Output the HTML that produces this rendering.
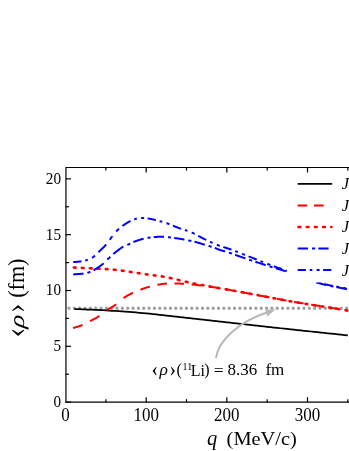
<!DOCTYPE html>
<html><head><meta charset="utf-8"><style>
html,body{margin:0;padding:0;background:#fff;}
svg{display:block;}
text{font-family:"Liberation Serif",serif;fill:#000;}
</style></head><body>
<svg width="349" height="451" viewBox="0 0 349 451" style="will-change:transform">
<rect width="349" height="451" fill="#fff"/>
<defs><clipPath id="cp"><rect x="65.5" y="167" width="284" height="236"/></clipPath></defs>
<g clip-path="url(#cp)" fill="none" stroke-width="2">
<line x1="69" y1="308.25" x2="349" y2="308.25" stroke="#a0a0a0" stroke-width="3.3" stroke-dasharray="0 5.34" stroke-linecap="round"/>
<path d="M74.42,309.03 L77.01,309.14 L79.56,309.24 L82.08,309.33 L84.58,309.42 L87.08,309.51 L89.59,309.60 L92.14,309.70 L94.73,309.80 L97.39,309.92 L100.12,310.05 L102.94,310.20 L105.88,310.37 L108.92,310.56 L112.08,310.76 L115.33,310.98 L118.66,311.20 L122.05,311.44 L125.48,311.69 L128.95,311.94 L132.43,312.21 L135.91,312.49 L139.38,312.78 L142.81,313.08 L146.20,313.39 L149.56,313.71 L152.92,314.05 L156.28,314.40 L159.64,314.77 L163.00,315.15 L166.36,315.53 L169.72,315.92 L173.08,316.31 L176.44,316.70 L179.80,317.09 L183.16,317.48 L186.52,317.85 L189.89,318.23 L193.25,318.60 L196.61,318.97 L199.97,319.34 L203.33,319.72 L206.69,320.09 L210.05,320.46 L213.41,320.83 L216.77,321.20 L220.13,321.58 L223.49,321.95 L226.85,322.32 L230.21,322.69 L233.57,323.07 L236.93,323.44 L240.29,323.81 L243.65,324.19 L247.01,324.56 L250.37,324.93 L253.73,325.31 L257.09,325.68 L260.45,326.05 L263.81,326.42 L267.18,326.79 L270.54,327.15 L273.90,327.52 L277.26,327.89 L280.62,328.25 L283.98,328.61 L287.34,328.98 L290.70,329.34 L294.06,329.70 L297.42,330.06 L300.78,330.42 L304.14,330.78 L307.50,331.14 L310.86,331.50 L314.22,331.85 L317.58,332.21 L320.94,332.56 L324.30,332.92 L327.66,333.27 L331.02,333.62 L334.38,333.97 L337.74,334.33 L341.10,334.68 L344.46,335.03 L347.82,335.38" stroke="#000" stroke-width="1.75"/>
<path d="M73.05,328.13 L73.28,328.05 L73.50,327.98 L73.73,327.90 L73.96,327.83 L74.19,327.76 L74.42,327.68 L74.64,327.61 L74.87,327.54 L75.10,327.47 L75.33,327.40 L75.56,327.32 L75.79,327.25 L76.02,327.18 L76.25,327.11 L76.48,327.04 L76.71,326.97 L76.94,326.90 L77.17,326.83 L77.40,326.75 L77.63,326.68 L77.86,326.61 L78.09,326.54 L78.32,326.46 L78.55,326.39 L78.77,326.32 L79.00,326.24 L79.23,326.17 L79.45,326.09 L79.68,326.01 L79.90,325.94 L80.12,325.86 L80.34,325.78 L80.56,325.70 L80.79,325.62 L81.00,325.54 L81.22,325.45 L81.44,325.37 L81.66,325.28 L81.87,325.20 L82.08,325.11 L82.30,325.02 L82.50,324.94 M90.01,321.12 L90.07,321.09 L90.27,320.99 L90.47,320.88 L90.67,320.78 L90.87,320.68 L91.07,320.58 L91.26,320.48 L91.46,320.38 L91.66,320.28 L91.86,320.18 L92.06,320.08 L92.26,319.98 L92.45,319.88 L92.65,319.79 L92.85,319.69 L93.05,319.59 L93.25,319.49 L93.44,319.39 L93.64,319.29 L93.84,319.18 L94.04,319.08 L94.24,318.98 L94.44,318.88 L94.64,318.77 L94.84,318.66 L95.04,318.56 L95.24,318.45 L95.44,318.34 L95.65,318.23 L95.85,318.11 L96.05,318.00 L96.26,317.88 L96.46,317.76 L96.67,317.64 L96.87,317.52 L97.08,317.40 L97.29,317.27 L97.50,317.14 L97.71,317.01 L97.92,316.87 L98.13,316.74 L98.35,316.60 L98.56,316.45 L98.78,316.31 L99.00,316.16 L99.22,316.00 L99.38,315.88 M106.79,310.24 L106.87,310.19 L107.08,310.04 L107.30,309.89 L107.51,309.75 L107.72,309.61 L107.93,309.48 L108.14,309.34 L108.34,309.21 L108.55,309.08 L108.76,308.95 L108.96,308.83 L109.17,308.70 L109.37,308.58 L109.57,308.46 L109.77,308.34 L109.98,308.22 L110.18,308.11 L110.38,307.99 L110.58,307.87 L110.78,307.76 L110.98,307.64 L111.18,307.53 L111.38,307.41 L111.58,307.30 L111.77,307.18 L111.97,307.06 L112.17,306.95 L112.37,306.83 L112.57,306.71 L112.76,306.59 L112.96,306.47 L113.16,306.35 L113.36,306.23 L113.56,306.10 L113.75,305.97 L113.95,305.84 L114.15,305.71 L114.35,305.58 L114.55,305.44 L114.75,305.30 L114.95,305.16 L115.15,305.01 L115.35,304.87 L115.55,304.71 L115.75,304.56 L115.95,304.40 L116.12,304.27 M123.49,298.07 L123.53,298.03 L123.74,297.90 L123.94,297.76 L124.14,297.63 L124.33,297.49 L124.53,297.36 L124.73,297.23 L124.93,297.10 L125.13,296.98 L125.33,296.85 L125.53,296.73 L125.73,296.61 L125.93,296.49 L126.13,296.37 L126.33,296.25 L126.53,296.13 L126.73,296.01 L126.93,295.90 L127.13,295.78 L127.33,295.67 L127.53,295.56 L127.73,295.44 L127.93,295.33 L128.14,295.22 L128.34,295.11 L128.54,295.00 L128.74,294.90 L128.94,294.79 L129.15,294.68 L129.35,294.57 L129.55,294.47 L129.76,294.36 L129.96,294.26 L130.17,294.15 L130.37,294.05 L130.58,293.94 L130.78,293.84 L130.99,293.73 L131.20,293.63 L131.41,293.52 L131.61,293.42 L131.82,293.32 L132.02,293.22 L132.23,293.12 L132.43,293.02 L132.63,292.92 L132.83,292.82 L132.85,292.82 M140.40,289.70 L140.50,289.66 L140.75,289.57 L141.00,289.47 L141.26,289.38 L141.52,289.28 L141.78,289.19 L142.04,289.09 L142.30,289.00 L142.56,288.90 L142.82,288.80 L143.09,288.71 L143.36,288.61 L143.63,288.52 L143.90,288.42 L144.17,288.32 L144.45,288.23 L144.73,288.13 L145.01,288.04 L145.29,287.94 L145.57,287.85 L145.85,287.75 L146.14,287.66 L146.43,287.57 L146.72,287.47 L147.01,287.38 L147.31,287.29 L147.61,287.20 L147.91,287.11 L148.21,287.02 L148.51,286.93 L148.82,286.84 L149.13,286.76 L149.44,286.67 L149.76,286.59 L149.85,286.56 M157.43,284.86 L157.55,284.83 L157.93,284.76 L158.32,284.69 L158.70,284.62 L159.09,284.55 L159.48,284.48 L159.86,284.41 L160.25,284.34 L160.63,284.28 L161.02,284.21 L161.40,284.15 L161.78,284.09 L162.16,284.04 L162.53,283.98 L162.91,283.93 L163.28,283.87 L163.65,283.82 L164.02,283.78 L164.38,283.73 L164.74,283.69 L165.10,283.65 L165.45,283.61 L165.80,283.58 L166.14,283.55 L166.49,283.52 L166.83,283.49 L166.92,283.48 M174.52,283.42 L174.57,283.42 L174.89,283.44 L175.20,283.45 L175.52,283.46 L175.83,283.47 L176.15,283.48 L176.47,283.50 L176.78,283.51 L177.10,283.52 L177.42,283.53 L177.74,283.55 L178.06,283.56 L178.38,283.57 L178.70,283.58 L179.02,283.59 L179.33,283.60 L179.64,283.60 L179.93,283.61 L180.23,283.62 L180.51,283.63 L180.80,283.63 L181.08,283.64 L181.35,283.65 L181.63,283.66 L181.90,283.66 L182.17,283.67 L182.44,283.68 L182.70,283.69 L182.97,283.70 L183.24,283.71 L183.52,283.72 L183.79,283.73 L184.02,283.74 M191.62,284.36 L192.10,284.41 L192.62,284.47 L193.16,284.54 L193.72,284.60 L194.30,284.67 L194.90,284.74 L195.52,284.82 L196.15,284.90 L196.80,284.98 L197.46,285.06 L198.13,285.15 L198.82,285.24 L199.51,285.33 L200.21,285.42 L200.92,285.51 L201.11,285.54 M208.71,286.57 L208.85,286.59 L209.55,286.69 L210.24,286.79 L210.92,286.88 L211.59,286.98 L212.25,287.07 L212.89,287.16 L213.52,287.25 L214.14,287.34 L214.73,287.43 L215.31,287.51 L215.87,287.59 L216.41,287.67 L216.92,287.75 L217.41,287.82 L217.88,287.89 L218.20,287.94 M225.79,289.26 L225.88,289.28 L226.17,289.34 L226.47,289.39 L226.79,289.45 L227.12,289.52 L227.47,289.58 L227.84,289.65 L228.23,289.73 L228.63,289.80 L229.06,289.88 L229.52,289.97 L230.00,290.05 L230.49,290.14 L231.00,290.24 L231.52,290.33 L232.05,290.43 L232.59,290.53 L233.14,290.63 L233.70,290.73 L234.26,290.83 L234.84,290.94 L235.27,291.02 M242.86,292.41 L243.18,292.47 L243.88,292.60 L244.59,292.73 L245.30,292.86 L246.02,292.99 L246.74,293.13 L247.47,293.26 L248.21,293.40 L248.95,293.53 L249.70,293.67 L250.46,293.81 L251.22,293.95 L251.99,294.09 L252.35,294.16 M259.93,295.57 L259.98,295.58 L260.83,295.74 L261.69,295.91 L262.56,296.07 L263.44,296.24 L264.33,296.41 L265.23,296.58 L266.14,296.75 L267.06,296.93 L267.98,297.10 L268.91,297.28 L269.42,297.38 M277.01,298.82 L277.48,298.91 L278.45,299.10 L279.42,299.28 L280.39,299.46 L281.36,299.64 L282.33,299.82 L283.30,300.00 L284.27,300.18 L285.24,300.36 L286.20,300.54 L286.49,300.59 M294.08,301.94 L294.72,302.05 L295.67,302.21 L296.62,302.37 L297.59,302.53 L298.56,302.70 L299.55,302.86 L300.54,303.02 L301.53,303.19 L302.53,303.35 L303.54,303.51 L303.57,303.52 M311.16,304.72 L311.61,304.79 L312.61,304.95 L313.60,305.11 L314.59,305.26 L315.57,305.41 L316.54,305.56 L317.50,305.71 L318.45,305.86 L319.39,306.01 L320.32,306.15 L320.65,306.20 M328.24,307.38 L328.75,307.46 L329.49,307.58 L330.20,307.70 L330.89,307.81 L331.55,307.91 L332.19,308.02 L332.81,308.12 L333.40,308.21 L333.97,308.30 L334.52,308.39 L335.05,308.48 L335.57,308.56 L336.06,308.65 L336.54,308.72 L337.00,308.80 L337.45,308.87 L337.73,308.92 M345.32,310.18 L345.48,310.21 L345.85,310.27 L346.22,310.33 L346.61,310.40 L347.00,310.46 L347.41,310.53 L347.82,310.60" stroke="#f00"/>
<path d="M73.81,267.53 L73.85,267.53 L74.49,267.56 L75.14,267.59 L75.61,267.62 M81.81,267.91 L82.47,267.94 L83.15,267.97 L83.61,267.99 M89.81,268.29 L90.41,268.31 L91.05,268.35 L91.61,268.37 M97.81,268.69 L98.09,268.70 L98.62,268.73 L99.13,268.76 L99.61,268.78 M105.81,269.09 L106.17,269.11 L106.55,269.13 L106.93,269.15 L107.31,269.17 L107.61,269.19 M113.81,269.64 L113.97,269.66 L114.36,269.69 L114.75,269.73 L115.14,269.77 L115.53,269.81 L115.61,269.82 M121.80,270.61 L122.13,270.66 L122.51,270.72 L122.89,270.77 L123.27,270.83 L123.60,270.88 M129.79,271.81 L130.07,271.85 L130.44,271.91 L130.81,271.96 L131.17,272.02 L131.52,272.07 L131.59,272.08 M137.78,273.05 L137.99,273.08 L138.34,273.13 L138.69,273.19 L139.04,273.24 L139.40,273.30 L139.58,273.33 M145.78,274.26 L145.95,274.28 L146.42,274.34 L146.89,274.41 L147.36,274.47 L147.57,274.50 M153.77,275.27 L153.95,275.30 L154.49,275.36 L155.03,275.43 L155.57,275.50 L155.57,275.50 M161.76,276.40 L162.30,276.49 L162.88,276.58 L163.46,276.68 L163.56,276.70 M169.75,277.92 L170.04,277.98 L170.67,278.12 L171.29,278.26 L171.55,278.32 M177.73,279.78 L177.76,279.79 L178.41,279.95 L179.07,280.11 L179.53,280.22 M185.71,281.71 L186.37,281.86 L187.03,282.01 L187.51,282.12 M193.69,283.45 L194.25,283.56 L194.92,283.69 L195.49,283.80 M201.68,284.98 L201.87,285.01 L202.56,285.14 L203.26,285.27 L203.48,285.31 M209.67,286.43 L210.01,286.49 L210.64,286.60 L211.27,286.72 L211.46,286.75 M217.66,287.86 L217.88,287.91 L218.32,287.99 L218.75,288.06 L219.14,288.14 L219.45,288.19 M225.64,289.28 L225.88,289.32 L226.17,289.37 L226.47,289.42 L226.79,289.48 L227.12,289.54 L227.44,289.59 M233.63,290.72 L233.70,290.73 L234.26,290.83 L234.84,290.94 L235.43,291.05 M241.62,292.18 L241.81,292.22 L242.49,292.34 L243.18,292.47 L243.42,292.51 M249.61,293.65 L249.70,293.67 L250.46,293.81 L251.22,293.95 L251.41,293.99 M257.60,295.13 L258.31,295.27 L259.14,295.42 L259.39,295.47 M265.58,296.65 L266.14,296.75 L267.06,296.93 L267.38,296.99 M273.57,298.17 L273.63,298.18 L274.59,298.36 L275.37,298.51 M281.56,299.68 L282.33,299.82 L283.30,300.00 L283.35,300.01 M289.55,301.14 L290.03,301.23 L290.98,301.40 L291.34,301.46 M297.53,302.53 L297.59,302.53 L298.56,302.70 L299.33,302.82 M305.53,303.83 L305.55,303.84 L306.57,304.00 L307.32,304.12 M313.52,305.09 L313.60,305.11 L314.59,305.26 L315.31,305.37 M321.51,306.33 L322.14,306.43 L323.03,306.57 L323.31,306.61 M329.50,307.58 L330.20,307.70 L330.89,307.81 L331.30,307.87 M337.49,308.88 L337.89,308.94 L338.31,309.01 L338.72,309.08 L339.11,309.15 L339.29,309.18 M345.48,310.21 L345.85,310.27 L346.22,310.33 L346.61,310.40 L347.00,310.46 L347.28,310.51" stroke="#f00" stroke-width="2.6" stroke-linecap="round"/>
<path d="M73.21,274.42 L73.46,274.40 L73.71,274.38 L73.96,274.36 L74.22,274.35 L74.47,274.33 L74.73,274.31 L74.99,274.29 L75.26,274.27 L75.52,274.25 L75.78,274.23 L76.05,274.21 L76.32,274.19 L76.58,274.18 L76.85,274.16 L77.11,274.14 L77.38,274.12 L77.64,274.10 L77.91,274.08 L78.17,274.06 L78.43,274.05 L78.69,274.03 L78.95,274.01 L79.21,273.99 L79.46,273.97 L79.72,273.95 L79.97,273.93 L80.21,273.91 L80.45,273.89 L80.69,273.87 L80.93,273.85 L81.16,273.83 L81.39,273.81 L81.62,273.79 L81.84,273.77 L82.05,273.75 L82.26,273.73 L82.47,273.71 L82.67,273.68 L82.86,273.66 L83.05,273.64 L83.23,273.62 L83.41,273.60 L83.51,273.59 M87.40,272.84 L87.42,272.83 L87.54,272.80 L87.67,272.76 L87.79,272.72 L87.92,272.68 L88.05,272.64 L88.18,272.59 L88.32,272.55 L88.45,272.51 L88.58,272.46 L88.71,272.42 L88.84,272.38 L88.97,272.34 L89.10,272.29 L89.23,272.25 L89.36,272.21 L89.49,272.16 L89.62,272.11 L89.75,272.07 L89.88,272.02 L90.01,271.97 L90.15,271.92 L90.28,271.87 L90.39,271.83 M93.55,270.31 L93.60,270.28 L93.78,270.18 L93.96,270.07 L94.15,269.96 L94.34,269.85 L94.54,269.73 L94.74,269.60 L94.95,269.48 L95.16,269.35 L95.38,269.21 L95.59,269.08 L95.81,268.94 L96.04,268.79 L96.26,268.65 L96.49,268.50 L96.72,268.35 L96.95,268.20 L97.19,268.05 L97.42,267.89 L97.66,267.73 L97.89,267.58 L98.13,267.42 L98.36,267.26 L98.60,267.10 L98.83,266.93 L99.07,266.77 L99.30,266.61 L99.53,266.45 L99.77,266.28 L99.99,266.12 L100.22,265.96 L100.44,265.80 L100.67,265.64 L100.88,265.48 L101.10,265.32 L101.31,265.16 L101.52,265.01 L101.72,264.86 L101.92,264.70 L102.11,264.55 L102.30,264.41 L102.49,264.26 L102.67,264.12 L102.84,263.98 L103.02,263.83 L103.18,263.69 L103.35,263.55 L103.51,263.41 L103.63,263.30 M107.37,259.58 L107.43,259.51 L107.57,259.38 L107.71,259.24 L107.86,259.10 L108.00,258.96 L108.15,258.82 L108.29,258.68 L108.44,258.54 L108.59,258.40 L108.74,258.26 L108.88,258.13 L109.03,257.99 L109.17,257.85 L109.32,257.71 L109.46,257.58 L109.60,257.44 L109.75,257.30 L109.89,257.17 L110.03,257.03 L110.17,256.89 L110.25,256.82 M113.34,254.00 L113.37,253.98 L113.54,253.83 L113.71,253.69 L113.88,253.54 L114.06,253.39 L114.24,253.25 L114.42,253.10 L114.61,252.95 L114.80,252.79 L115.00,252.64 L115.20,252.48 L115.40,252.31 L115.61,252.15 L115.82,251.98 L116.03,251.81 L116.25,251.64 L116.47,251.47 L116.69,251.30 L116.91,251.13 L117.14,250.95 L117.36,250.78 L117.59,250.60 L117.82,250.43 L118.05,250.25 L118.28,250.08 L118.51,249.90 L118.74,249.73 L118.98,249.55 L119.21,249.38 L119.44,249.21 L119.67,249.04 L119.90,248.88 L120.12,248.71 L120.35,248.55 L120.58,248.39 L120.80,248.23 L121.02,248.08 L121.24,247.92 L121.45,247.78 L121.67,247.63 L121.87,247.49 L122.08,247.35 L122.28,247.22 L122.48,247.09 L122.68,246.97 L122.87,246.85 L123.05,246.73 L123.24,246.62 L123.39,246.53 M127.26,244.87 L127.37,244.83 L127.52,244.78 L127.66,244.73 L127.80,244.68 L127.94,244.63 L128.08,244.58 L128.22,244.53 L128.37,244.47 L128.51,244.41 L128.66,244.36 L128.80,244.29 L128.95,244.23 L129.10,244.17 L129.25,244.10 L129.40,244.03 L129.55,243.96 L129.69,243.89 L129.84,243.82 L129.98,243.76 L130.13,243.69 L130.24,243.63 M133.40,242.08 L133.46,242.05 L133.61,241.98 L133.76,241.91 L133.92,241.85 L134.08,241.78 L134.24,241.71 L134.40,241.64 L134.57,241.57 L134.73,241.51 L134.90,241.44 L135.07,241.37 L135.24,241.31 L135.42,241.24 L135.60,241.18 L135.78,241.11 L135.96,241.04 L136.15,240.98 L136.34,240.91 L136.53,240.84 L136.73,240.77 L136.92,240.71 L137.12,240.64 L137.32,240.57 L137.52,240.51 L137.72,240.44 L137.92,240.37 L138.12,240.31 L138.32,240.24 L138.53,240.18 L138.73,240.11 L138.94,240.05 L139.14,239.98 L139.35,239.92 L139.55,239.86 L139.75,239.80 L139.96,239.73 L140.16,239.67 L140.36,239.61 L140.56,239.55 L140.76,239.50 L140.95,239.44 L141.15,239.38 L141.34,239.32 L141.54,239.27 L141.73,239.22 L141.91,239.16 L142.10,239.11 L142.28,239.06 L142.46,239.01 L142.64,238.96 L142.81,238.92 L142.98,238.87 L143.15,238.83 L143.32,238.78 L143.49,238.74 L143.65,238.70 M147.54,237.90 L147.68,237.88 L147.83,237.86 L147.97,237.83 L148.12,237.81 L148.27,237.78 L148.41,237.76 L148.56,237.74 L148.71,237.71 L148.86,237.69 L149.01,237.67 L149.16,237.64 L149.30,237.62 L149.45,237.60 L149.59,237.58 L149.73,237.55 L149.87,237.53 L150.00,237.51 L150.14,237.49 L150.28,237.47 L150.41,237.45 L150.54,237.43 M153.74,237.09 L153.74,237.09 L153.91,237.08 L154.09,237.07 L154.27,237.05 L154.45,237.04 L154.64,237.03 L154.83,237.02 L155.03,237.01 L155.22,237.00 L155.43,236.98 L155.63,236.97 L155.85,236.96 L156.06,236.95 L156.28,236.94 L156.50,236.92 L156.72,236.91 L156.95,236.90 L157.17,236.89 L157.41,236.87 L157.64,236.86 L157.88,236.85 L158.11,236.84 L158.35,236.83 L158.60,236.82 L158.84,236.81 L159.08,236.80 L159.33,236.79 L159.58,236.78 L159.83,236.77 L160.08,236.77 L160.33,236.76 L160.58,236.75 L160.83,236.75 L161.09,236.75 L161.34,236.74 L161.59,236.74 L161.84,236.74 L162.10,236.74 L162.35,236.74 L162.60,236.74 L162.85,236.75 L163.11,236.75 L163.36,236.76 L163.61,236.77 L163.85,236.77 L164.04,236.78 M167.94,237.12 L168.14,237.15 L168.40,237.18 L168.66,237.21 L168.92,237.24 L169.17,237.28 L169.43,237.31 L169.69,237.35 L169.95,237.38 L170.20,237.42 L170.46,237.46 L170.72,237.49 L170.93,237.52 M174.13,237.98 L174.19,237.99 L174.43,238.02 L174.66,238.06 L174.89,238.09 L175.12,238.12 L175.34,238.15 L175.57,238.18 L175.79,238.21 L176.00,238.24 L176.22,238.27 L176.43,238.29 L176.64,238.32 L176.85,238.35 L177.06,238.38 L177.27,238.41 L177.47,238.44 L177.68,238.46 L177.88,238.49 L178.09,238.52 L178.29,238.55 L178.50,238.58 L178.70,238.61 L178.91,238.64 L179.11,238.67 L179.32,238.70 L179.53,238.73 L179.74,238.77 L179.95,238.80 L180.17,238.83 L180.38,238.87 L180.60,238.90 L180.82,238.94 L181.05,238.98 L181.27,239.02 L181.50,239.06 L181.74,239.10 L181.97,239.14 L182.21,239.18 L182.46,239.22 L182.71,239.27 L182.96,239.32 L183.22,239.36 L183.48,239.41 L183.75,239.46 L184.02,239.52 L184.30,239.57 L184.42,239.59 M188.31,240.38 L188.59,240.44 L188.92,240.50 L189.24,240.57 L189.56,240.64 L189.88,240.71 L190.20,240.78 L190.52,240.85 L190.84,240.92 L191.15,240.98 L191.30,241.02 M194.50,241.75 L194.71,241.80 L194.97,241.87 L195.24,241.93 L195.49,242.00 L195.75,242.06 L196.00,242.13 L196.25,242.19 L196.49,242.26 L196.74,242.32 L196.98,242.39 L197.22,242.46 L197.46,242.53 L197.69,242.59 L197.93,242.66 L198.16,242.73 L198.39,242.79 L198.61,242.86 L198.84,242.93 L199.06,243.00 L199.28,243.06 L199.50,243.13 L199.71,243.20 L199.93,243.27 L200.14,243.33 L200.35,243.40 L200.56,243.46 L200.77,243.53 L200.97,243.59 L201.18,243.66 L201.38,243.72 L201.58,243.79 L201.78,243.85 L201.97,243.91 L202.17,243.98 L202.36,244.04 L202.56,244.10 L202.75,244.16 L202.94,244.22 L203.12,244.28 L203.31,244.33 L203.50,244.39 L203.68,244.45 L203.86,244.50 L204.05,244.55 L204.22,244.61 L204.40,244.66 L204.57,244.71 L204.74,244.76 L204.76,244.77 M208.64,245.92 L208.73,245.95 L208.87,245.99 L209.01,246.03 L209.14,246.07 L209.28,246.12 L209.42,246.16 L209.56,246.20 L209.69,246.24 L209.83,246.29 L209.97,246.33 L210.11,246.37 L210.25,246.41 L210.38,246.46 L210.52,246.50 L210.65,246.54 L210.79,246.58 L210.92,246.62 L211.05,246.66 L211.18,246.71 L211.32,246.75 L211.45,246.79 L211.58,246.83 L211.63,246.84 M214.81,247.90 L214.87,247.92 L214.99,247.96 L215.12,248.01 L215.24,248.05 L215.36,248.10 L215.48,248.14 L215.59,248.19 L215.71,248.24 L215.82,248.28 L215.92,248.33 L216.03,248.37 L216.14,248.42 L216.24,248.46 L216.35,248.51 L216.45,248.55 L216.56,248.60 L216.66,248.65 L216.77,248.69 L216.87,248.74 L216.98,248.79 L217.08,248.83 L217.19,248.88 L217.30,248.93 L217.41,248.98 L217.53,249.03 L217.64,249.08 L217.76,249.13 L217.88,249.18 L218.01,249.23 L218.13,249.28 L218.26,249.34 L218.40,249.39 L218.53,249.44 L218.68,249.50 L218.82,249.56 L218.98,249.61 L219.13,249.67 L219.29,249.73 L219.46,249.79 L219.63,249.85 L219.81,249.91 L219.99,249.97 L220.18,250.03 L220.38,250.10 L220.57,250.16 L220.77,250.22 L220.97,250.28 L221.17,250.34 L221.37,250.41 L221.58,250.47 L221.79,250.53 L222.01,250.59 L222.22,250.66 L222.44,250.72 L222.67,250.78 L222.89,250.85 L223.12,250.92 L223.36,250.98 L223.59,251.05 L223.83,251.12 L224.07,251.19 L224.32,251.26 L224.57,251.33 L224.82,251.40 L225.06,251.47 M228.94,252.64 L229.05,252.67 L229.36,252.78 L229.67,252.88 L230.00,252.99 L230.32,253.09 L230.64,253.20 L230.97,253.31 L231.30,253.43 L231.63,253.54 L231.92,253.65 M235.11,254.78 L235.42,254.89 L235.79,255.03 L236.16,255.16 L236.53,255.30 L236.91,255.43 L237.30,255.57 L237.69,255.72 L238.08,255.86 L238.48,256.00 L238.89,256.15 L239.30,256.30 L239.72,256.45 L240.14,256.60 L240.57,256.75 L241.01,256.91 L241.46,257.07 L241.91,257.22 L242.37,257.39 L242.83,257.55 L243.31,257.71 L243.79,257.88 L244.28,258.05 L244.78,258.22 L245.29,258.39 L245.35,258.41 M249.23,259.72 L249.24,259.72 L249.87,259.93 L250.51,260.15 L251.16,260.36 L251.83,260.58 L252.21,260.71 M255.40,261.77 L255.97,261.96 L256.68,262.19 L257.39,262.43 L258.10,262.66 L258.81,262.89 L259.53,263.13 L260.24,263.36 L260.94,263.59 L261.65,263.83 L262.35,264.05 L263.04,264.28 L263.73,264.51 L264.41,264.73 L265.08,264.95 L265.65,265.13 M269.53,266.39 L270.02,266.55 L270.57,266.72 L271.10,266.89 L271.61,267.05 L272.10,267.21 L272.52,267.34 M275.70,268.29 L275.84,268.32 L276.13,268.41 L276.42,268.48 L276.69,268.56 L276.96,268.63 L277.23,268.70 L277.49,268.77 L277.75,268.84 L278.01,268.91 L278.26,268.98 L278.53,269.05 L278.79,269.12 L279.06,269.20 L279.33,269.27 L279.62,269.35 L279.91,269.44 L280.21,269.52 L280.52,269.62 L280.85,269.71 L281.19,269.82 L281.55,269.93 L281.93,270.04 L282.32,270.17 L282.74,270.30 L283.17,270.44 L283.63,270.59 L284.11,270.75 L284.62,270.92 L285.16,271.10 L285.72,271.30 L285.96,271.38 M289.84,272.78 L290.32,272.95 L291.05,273.23 L291.80,273.51 L292.57,273.80 L292.82,273.90 M296.00,275.11 L296.60,275.34 L297.44,275.66 L298.29,275.98 L299.14,276.31 L300.00,276.63 L300.87,276.96 L301.74,277.29 L302.62,277.62 L303.50,277.95 L304.38,278.28 L305.27,278.61 L306.15,278.93 L306.24,278.96 M310.11,280.35 L310.53,280.50 L311.40,280.80 L312.25,281.09 L313.10,281.37 M316.28,282.40 L316.40,282.43 L317.20,282.68 L317.98,282.91 L318.76,283.13 L319.53,283.35 L320.30,283.56 L321.07,283.76 L321.83,283.96 L322.59,284.16 L323.35,284.35 L324.11,284.53 L324.86,284.71 L325.61,284.89 L326.37,285.06 L326.55,285.10 M330.44,285.94 L330.84,286.02 L331.58,286.17 L332.32,286.32 L333.06,286.47 L333.44,286.54 M336.63,287.16 L336.74,287.18 L337.48,287.32 L338.21,287.46 L338.95,287.60 L339.69,287.74 L340.42,287.88 L341.16,288.03 L341.90,288.17 L342.63,288.32 L343.37,288.46 L344.11,288.61 L344.85,288.76 L345.59,288.91 L346.34,289.07 L346.91,289.19" stroke="#00f"/>
<path d="M73.21,262.14 L73.38,262.12 L73.55,262.11 L73.73,262.09 L73.90,262.08 L74.07,262.06 L74.24,262.05 L74.42,262.03 L74.59,262.02 L74.76,262.00 L74.93,261.99 L75.11,261.98 L75.28,261.96 L75.45,261.95 L75.62,261.93 L75.80,261.92 L75.97,261.91 L76.14,261.89 L76.31,261.88 L76.49,261.86 L76.66,261.85 L76.83,261.83 L77.00,261.82 L77.18,261.80 L77.35,261.79 L77.52,261.77 L77.69,261.75 L77.86,261.74 L78.03,261.72 L78.21,261.70 L78.38,261.69 L78.55,261.67 L78.72,261.65 L78.89,261.63 L79.06,261.61 L79.23,261.59 L79.39,261.57 L79.56,261.54 L79.73,261.52 L79.90,261.50 L80.07,261.47 L80.23,261.45 L80.40,261.42 L80.57,261.40 L80.73,261.37 L80.90,261.35 L81.06,261.32 L81.23,261.30 L81.39,261.27 L81.41,261.27 M85.20,260.54 L85.30,260.52 L85.46,260.47 L85.62,260.43 L85.79,260.38 L85.95,260.34 L86.11,260.29 L86.27,260.24 L86.44,260.18 L86.60,260.13 L86.76,260.08 L86.93,260.02 L87.09,259.96 L87.26,259.91 L87.42,259.85 L87.59,259.79 L87.75,259.73 L87.79,259.72 M92.05,257.80 L92.20,257.71 L92.35,257.62 L92.51,257.52 L92.67,257.42 L92.82,257.32 L92.98,257.22 L93.13,257.12 L93.28,257.01 L93.44,256.90 L93.58,256.79 L93.73,256.68 L93.88,256.57 L94.02,256.46 L94.16,256.34 L94.31,256.22 L94.45,256.10 L94.59,255.98 L94.73,255.86 L94.86,255.73 L94.98,255.63 M98.33,252.27 L98.38,252.22 L98.54,252.07 L98.70,251.91 L98.86,251.76 L99.02,251.60 L99.19,251.44 L99.36,251.28 L99.53,251.12 L99.71,250.95 L99.88,250.78 L100.06,250.61 L100.25,250.44 L100.43,250.27 L100.62,250.09 L100.80,249.91 L100.99,249.74 L101.18,249.56 L101.38,249.37 L101.57,249.19 L101.76,249.01 L101.95,248.83 L102.15,248.64 L102.34,248.46 L102.53,248.28 L102.73,248.09 L102.92,247.91 L103.11,247.72 L103.30,247.54 L103.49,247.35 L103.67,247.17 L103.86,246.99 L104.04,246.80 L104.23,246.62 L104.41,246.44 L104.58,246.26 L104.76,246.09 L104.93,245.91 L105.10,245.73 L105.26,245.56 L105.43,245.39 L105.58,245.22 L105.74,245.05 L105.89,244.89 L106.04,244.72 L106.18,244.56 L106.19,244.55 M109.71,239.76 L109.77,239.68 L109.87,239.53 L109.97,239.39 L110.07,239.24 L110.18,239.10 L110.28,238.95 L110.39,238.81 L110.50,238.66 L110.61,238.51 L110.71,238.37 L110.81,238.22 L110.92,238.08 L111.02,237.94 L111.12,237.79 L111.22,237.65 L111.32,237.51 L111.41,237.37 L111.51,237.23 L111.61,237.08 L111.71,236.94 L111.80,236.80 L111.90,236.66 L112.00,236.52 L112.10,236.38 L112.10,236.37 M116.14,231.51 L116.27,231.38 L116.43,231.21 L116.60,231.04 L116.76,230.87 L116.93,230.70 L117.10,230.53 L117.27,230.36 L117.44,230.19 L117.61,230.02 L117.79,229.84 L117.97,229.67 L118.15,229.50 L118.33,229.33 L118.51,229.16 L118.70,228.98 L118.88,228.81 L119.02,228.69 M122.42,225.94 L122.60,225.81 L122.83,225.65 L123.07,225.48 L123.31,225.31 L123.55,225.14 L123.80,224.97 L124.05,224.81 L124.30,224.64 L124.55,224.47 L124.81,224.29 L125.07,224.12 L125.33,223.96 L125.59,223.79 L125.86,223.62 L126.12,223.45 L126.39,223.28 L126.66,223.12 L126.93,222.95 L127.20,222.79 L127.47,222.63 L127.74,222.47 L128.01,222.31 L128.28,222.15 L128.55,222.00 L128.82,221.85 L129.09,221.70 L129.35,221.55 L129.62,221.41 L129.88,221.27 L130.15,221.13 L130.41,221.00 L130.49,220.96 M134.25,219.33 L134.27,219.33 L134.49,219.25 L134.72,219.17 L134.94,219.10 L135.16,219.03 L135.39,218.96 L135.61,218.89 L135.83,218.83 L136.05,218.76 L136.27,218.70 L136.49,218.65 L136.71,218.59 L136.84,218.56 M141.14,217.93 L141.20,217.93 L141.43,217.91 L141.67,217.90 L141.90,217.90 L142.13,217.89 L142.36,217.89 L142.58,217.89 L142.81,217.89 L143.04,217.89 L143.26,217.90 L143.49,217.91 L143.71,217.92 L143.94,217.93 L144.14,217.94 M147.64,218.39 L147.70,218.40 L147.96,218.44 L148.21,218.49 L148.48,218.54 L148.74,218.59 L149.01,218.64 L149.29,218.69 L149.57,218.75 L149.85,218.80 L150.14,218.86 L150.44,218.92 L150.73,218.98 L151.04,219.04 L151.35,219.11 L151.67,219.18 L151.99,219.24 L152.32,219.32 L152.66,219.39 L153.00,219.47 L153.35,219.55 L153.71,219.63 L154.06,219.71 L154.43,219.80 L154.79,219.89 L155.16,219.98 L155.54,220.07 L155.82,220.14 M159.61,221.12 L159.79,221.17 L160.18,221.28 L160.57,221.39 L160.96,221.50 L161.35,221.61 L161.74,221.72 L162.12,221.83 L162.20,221.85 M166.48,223.18 L166.49,223.18 L166.83,223.29 L167.16,223.41 L167.50,223.53 L167.83,223.65 L168.17,223.77 L168.50,223.89 L168.83,224.02 L169.15,224.14 L169.46,224.26 M172.94,225.67 L173.00,225.69 L173.31,225.82 L173.63,225.95 L173.94,226.08 L174.26,226.21 L174.57,226.34 L174.89,226.47 L175.20,226.60 L175.52,226.73 L175.83,226.86 L176.15,226.99 L176.47,227.12 L176.78,227.24 L177.10,227.37 L177.42,227.49 L177.74,227.61 L178.06,227.74 L178.38,227.86 L178.70,227.98 L179.02,228.09 L179.35,228.21 L179.67,228.32 L179.99,228.44 L180.31,228.55 L180.64,228.65 L180.96,228.76 L181.08,228.80 M184.86,230.01 L185.15,230.10 L185.48,230.21 L185.80,230.31 L186.12,230.42 L186.44,230.52 L186.77,230.63 L187.09,230.74 L187.41,230.85 L187.45,230.86 M191.72,232.49 L191.93,232.58 L192.25,232.73 L192.57,232.87 L192.89,233.02 L193.21,233.17 L193.53,233.33 L193.85,233.49 L194.16,233.64 L194.48,233.80 L194.69,233.91 M198.15,235.77 L198.29,235.85 L198.61,236.02 L198.93,236.20 L199.25,236.38 L199.57,236.56 L199.89,236.73 L200.21,236.91 L200.54,237.09 L200.86,237.26 L201.19,237.44 L201.51,237.61 L201.84,237.79 L202.17,237.96 L202.50,238.13 L202.83,238.30 L203.16,238.47 L203.50,238.64 L203.83,238.81 L204.17,238.98 L204.51,239.14 L204.85,239.30 L205.20,239.47 L205.54,239.64 L205.90,239.80 L206.25,239.97 L206.25,239.97 M210.01,241.72 L210.27,241.84 L210.64,242.01 L211.01,242.18 L211.38,242.34 L211.75,242.51 L212.12,242.68 L212.49,242.84 L212.59,242.89 M216.86,244.72 L217.14,244.84 L217.48,244.98 L217.81,245.11 L218.14,245.25 L218.46,245.38 L218.78,245.51 L219.10,245.63 L219.41,245.75 L219.71,245.86 L219.83,245.91 M223.32,247.07 L223.53,247.14 L223.78,247.21 L224.04,247.29 L224.29,247.37 L224.55,247.44 L224.81,247.52 L225.07,247.60 L225.33,247.68 L225.59,247.75 L225.85,247.83 L226.12,247.91 L226.39,248.00 L226.66,248.08 L226.94,248.17 L227.22,248.25 L227.51,248.35 L227.80,248.44 L228.09,248.54 L228.40,248.64 L228.70,248.74 L229.02,248.84 L229.33,248.96 L229.66,249.07 L230.00,249.19 L230.33,249.31 L230.67,249.43 L231.01,249.56 L231.34,249.68 L231.48,249.73 M235.25,251.13 L235.51,251.23 L235.87,251.37 L236.24,251.51 L236.61,251.65 L236.99,251.79 L237.37,251.94 L237.75,252.09 L237.84,252.12 M242.11,253.77 L242.38,253.88 L242.85,254.06 L243.32,254.25 L243.80,254.43 L244.28,254.62 L244.78,254.82 L245.09,254.94 M248.56,256.31 L248.63,256.34 L249.24,256.58 L249.87,256.83 L250.51,257.09 L251.16,257.35 L251.83,257.61 L252.50,257.88 L253.18,258.16 L253.87,258.43 L254.56,258.71 L255.26,259.00 L255.97,259.28 L256.68,259.56 L256.71,259.58 M260.48,261.09 L260.94,261.28 L261.65,261.56 L262.35,261.84 L263.04,262.12 L263.06,262.13 M267.33,263.83 L267.66,263.96 L268.28,264.20 L268.88,264.43 L269.46,264.66 L270.02,264.88 L270.31,264.99 M273.79,266.30 L273.81,266.31 L274.19,266.45 L274.54,266.58 L274.89,266.70 L275.22,266.82 L275.53,266.93 L275.83,267.03 L276.13,267.13 L276.41,267.23 L276.68,267.32 L276.95,267.41 L277.22,267.50 L277.48,267.58 L277.73,267.67 L277.99,267.75 L278.25,267.84 L278.51,267.92 L278.77,268.00 L279.04,268.09 L279.32,268.18 L279.60,268.27 L279.89,268.37 L280.19,268.47 L280.51,268.57 L280.83,268.68 L281.18,268.80 L281.54,268.92 L281.91,269.05 L281.94,269.06 M285.72,270.40 L285.72,270.40 L286.32,270.62 L286.94,270.85 L287.58,271.09 L288.24,271.35 L288.31,271.37 M292.58,273.03 L292.63,273.05 L293.41,273.36 L294.22,273.67 L295.03,274.00 L295.56,274.20 M299.03,275.57 L299.26,275.66 L300.13,276.00 L301.01,276.34 L301.89,276.68 L302.77,277.02 L303.66,277.37 L304.55,277.70 L305.44,278.04 L306.33,278.38 L307.18,278.69 M310.96,280.07 L311.62,280.30 L312.48,280.60 L313.33,280.89 L313.54,280.96 M317.82,282.34 L318.23,282.46 L319.00,282.69 L319.77,282.91 L320.54,283.12 L320.81,283.20 M324.30,284.09 L324.33,284.10 L325.08,284.28 L325.83,284.45 L326.58,284.62 L327.32,284.79 L328.06,284.95 L328.80,285.11 L329.54,285.26 L330.27,285.42 L331.01,285.57 L331.74,285.71 L332.48,285.86 L332.48,285.86 M336.28,286.58 L336.85,286.69 L337.58,286.82 L338.31,286.96 L338.87,287.07 M343.17,287.88 L343.41,287.93 L344.15,288.07 L344.88,288.21 L345.61,288.36 L346.16,288.48" stroke="#00f"/>
</g>
<!-- arrow -->
<path d="M216,358 C218,341 238,322 267.5,312.3" fill="none" stroke="#b8b8b8" stroke-width="2"/>
<path d="M275.5,309.3 L265.3,309.7 L267.4,316.5 Z" fill="#b8b8b8"/>
<!-- legend box -->
<rect x="286.8" y="170" width="63" height="112.4" fill="#fff"/>
<g fill="none" stroke-width="2">
<line x1="297.7" y1="183.8" x2="332.2" y2="183.8" stroke="#000" stroke-width="1.7"/>
<path d="M297.7,205.4 H307.2 M314,205.4 H323.7" stroke="#f00"/>
<path d="M298.5,227 h1.8 M306.7,227 h1.8 M314.9,227 h1.8 M323.1,227 h1.8 M331.2,227 h0.1" stroke="#f00" stroke-width="2.6" stroke-linecap="round"/>
<line x1="297.7" y1="248.6" x2="332.2" y2="248.6" stroke="#00f" stroke-dasharray="10.3 4 3.2 3.1"/>
<line x1="297.7" y1="270.1" x2="332.2" y2="270.1" stroke="#00f" stroke-dasharray="8.2 3.8 2.6 4.3 3 3.5"/>
</g>
<g font-size="16.5" font-style="italic">
<text x="341.8" y="189">J</text><text x="341.8" y="210.7">J</text><text x="341.8" y="232.2">J</text><text x="341.8" y="253.8">J</text><text x="341.8" y="275.5">J</text>
</g>
<!-- frame -->
<g stroke="#000" stroke-width="1.2" fill="none">
<path d="M349,167.5 H65.95 V402.15 H349"/>
<line x1="65.55" y1="402.15" x2="70.95" y2="402.15"/><line x1="65.55" y1="374.24" x2="68.95" y2="374.24"/><line x1="65.55" y1="346.32" x2="70.95" y2="346.32"/><line x1="65.55" y1="318.41" x2="68.95" y2="318.41"/><line x1="65.55" y1="290.50" x2="70.95" y2="290.50"/><line x1="65.55" y1="262.59" x2="68.95" y2="262.59"/><line x1="65.55" y1="234.67" x2="70.95" y2="234.67"/><line x1="65.55" y1="206.76" x2="68.95" y2="206.76"/><line x1="65.55" y1="178.85" x2="70.95" y2="178.85"/><line x1="105.88" y1="402.15" x2="105.88" y2="399.15"/><line x1="105.88" y1="167.50" x2="105.88" y2="170.50"/><line x1="146.20" y1="402.15" x2="146.20" y2="397.15"/><line x1="146.20" y1="167.50" x2="146.20" y2="172.50"/><line x1="186.52" y1="402.15" x2="186.52" y2="399.15"/><line x1="186.52" y1="167.50" x2="186.52" y2="170.50"/><line x1="226.85" y1="402.15" x2="226.85" y2="397.15"/><line x1="226.85" y1="167.50" x2="226.85" y2="172.50"/><line x1="267.18" y1="402.15" x2="267.18" y2="399.15"/><line x1="267.18" y1="167.50" x2="267.18" y2="170.50"/><line x1="307.50" y1="402.15" x2="307.50" y2="397.15"/><line x1="307.50" y1="167.50" x2="307.50" y2="172.50"/><line x1="347.82" y1="402.15" x2="347.82" y2="399.15"/><line x1="347.82" y1="167.50" x2="347.82" y2="170.50"/>
</g>
<g font-size="16"><text transform="translate(61,407.05) scale(0.95,1.05)" text-anchor="end">0</text><text transform="translate(61,351.22) scale(0.95,1.05)" text-anchor="end">5</text><text transform="translate(61,295.40) scale(0.95,1.05)" text-anchor="end">10</text><text transform="translate(61,239.57) scale(0.95,1.05)" text-anchor="end">15</text><text transform="translate(61,183.75) scale(0.95,1.05)" text-anchor="end">20</text></g>
<g font-size="17.5"><text transform="translate(65.55,420.6) scale(0.97,1.03)" text-anchor="middle">0</text><text transform="translate(146.20,420.6) scale(0.97,1.03)" text-anchor="middle">100</text><text transform="translate(226.85,420.6) scale(0.97,1.03)" text-anchor="middle">200</text><text transform="translate(307.50,420.6) scale(0.97,1.03)" text-anchor="middle">300</text></g>
<!-- annotation -->
<g id="ann" font-size="17">
<path d="M155.9,366.9 L152.6,371.1 L155.9,375.3 L156.6,374.9 L154.7,371.1 L156.6,367.3 Z"/>
<text x="159.4" y="374.9" font-style="italic" font-size="17.5">ρ</text>
<path d="M171.6,366.9 L174.9,371.1 L171.6,375.3 L170.9,374.9 L172.8,371.1 L170.9,367.3 Z"/>
<text x="176.5" y="375.2" font-size="16">(</text>
<text x="182.6" y="370.2" font-size="10">11</text>
<text x="190.7" y="375.5" font-size="16">Li</text>
<text x="204.2" y="375.2" font-size="16">)</text>
<text x="213.8" y="375.5" font-size="17.6">=</text>
<text x="227.4" y="375.1">8.36</text>
<text x="265.4" y="375.1">fm</text>
</g>
<text x="207" y="445" font-size="20.5" font-style="italic">q</text><text transform="translate(226.6,445) scale(1.075,1)" font-size="19">(MeV/c)</text>
<!-- y label -->
<g id="yl">
<text transform="translate(24.1,297.8) rotate(-90) scale(0.96,1)" font-size="23">(fm)</text>
<path d="M12.0,310.4 L18.1,304.9 L24.3,310.4 L23.7,311.1 L18.1,307.8 L12.6,311.1 Z"/>
<text transform="translate(24.1,328.6) rotate(-90) scale(1.18,0.92) skewX(-6)" font-size="23" font-style="italic">ρ</text>
<path d="M12.0,330.4 L18.1,335.9 L24.3,330.4 L23.7,329.7 L18.1,333.0 L12.6,329.7 Z"/>
</g>
</svg>
</body></html>
